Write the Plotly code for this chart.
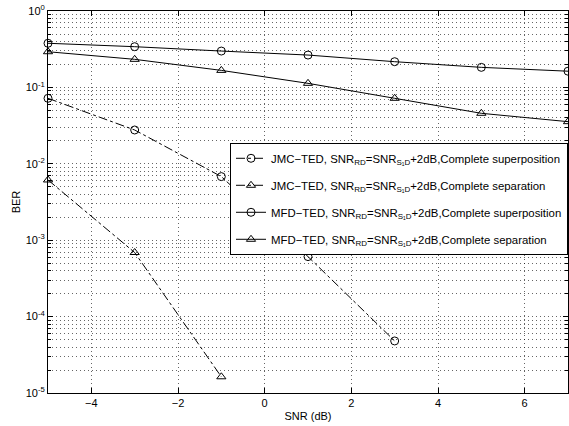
import plotly.graph_objects as go

snr = [-5, -3, -1, 1, 3, 5, 7]
jmc_sup_x = [-5, -3, -1, 1, 3]
jmc_sup_y = [0.072, 0.0277, 0.0068, 6.1e-4, 4.8e-5]
jmc_sep_x = [-5, -3, -1]
jmc_sep_y = [0.00614, 6.9e-4, 1.63e-5]
mfd_sup_y = [0.378, 0.341, 0.299, 0.265, 0.217, 0.183, 0.163]
mfd_sep_y = [0.293, 0.233, 0.167, 0.113, 0.072, 0.0458, 0.0356]

names = [
    "JMC−TED, SNR<sub>RD</sub>=SNR<sub>S₁D</sub>+2dB,Complete superposition",
    "JMC−TED, SNR<sub>RD</sub>=SNR<sub>S₁D</sub>+2dB,Complete separation",
    "MFD−TED, SNR<sub>RD</sub>=SNR<sub>S₁D</sub>+2dB,Complete superposition",
    "MFD−TED, SNR<sub>RD</sub>=SNR<sub>S₁D</sub>+2dB,Complete separation",
]

x_ticks = [-4, -2, 0, 2, 4, 6]
y_major = [1e-5, 1e-4, 1e-3, 1e-2, 1e-1, 1e0]
y_major_text = ["10<sup>-5</sup>", "10<sup>-4</sup>", "10<sup>-3</sup>",
                "10<sup>-2</sup>", "10<sup>-1</sup>", "10<sup>0</sup>"]
y_minor = [k * d for d in [1e-5, 1e-4, 1e-3, 1e-2, 1e-1] for k in range(2, 10)]

fig = go.Figure()
series = [
    (jmc_sup_x, jmc_sup_y, "dashdot", "circle-open"),
    (jmc_sep_x, jmc_sep_y, "dashdot", "triangle-up-open"),
    (snr, mfd_sup_y, "solid", "circle-open"),
    (snr, mfd_sep_y, "solid", "triangle-up-open"),
]
for i, ((xs, ys, dash, sym), nm) in enumerate(zip(series, names)):
    fig.add_trace(go.Scatter(
        x=xs, y=ys, name=nm, mode="lines+markers", legendgroup=f"g{i}",
        line=dict(color="black", width=1, dash=dash),
        marker=dict(symbol=sym, size=8, color="black", line=dict(color="black", width=1)),
        cliponaxis=False,
    ))

grid = "rgba(0,0,0,0.6)"
gdash = "1px,3px"
fig.update_layout(
    width=569, height=426,
    margin=dict(l=48, r=1, t=11, b=33),
    paper_bgcolor="white", plot_bgcolor="white",
    font=dict(family="Liberation Sans, Arial, sans-serif", size=11, color="black"),
    showlegend=True,
    legend=dict(
        x=1, xanchor="right", y=0.655, yanchor="top",
        bgcolor="white", bordercolor="black", borderwidth=1,
        font=dict(size=11.4), itemwidth=30, tracegroupgap=8,
    ),
    xaxis=dict(
        range=[-5, 7], tickvals=x_ticks, ticktext=[str(v).replace("-", "−") for v in x_ticks],
        showgrid=True, gridcolor=grid, griddash=gdash, gridwidth=1,
        ticks="inside", ticklen=5, tickcolor="black",
        showline=True, linecolor="black", linewidth=1, mirror="ticks",
        zeroline=False,
        title=dict(text="SNR (dB)", standoff=4, font=dict(size=11)),
    ),
    yaxis=dict(
        type="log", range=[-5, 0], tickvals=y_major, ticktext=y_major_text,
        showgrid=True, gridcolor=grid, griddash=gdash, gridwidth=1,
        ticks="inside", ticklen=5, tickcolor="black",
        showline=True, linecolor="black", linewidth=1, mirror="ticks",
        zeroline=False,
        minor=dict(tickvals=y_minor, showgrid=True, gridcolor=grid, griddash=gdash,
                   gridwidth=1, ticks="inside", ticklen=3, tickcolor="black"),
        title=dict(text="BER", standoff=2, font=dict(size=11)),
    ),
)

fig.write_html("out.html")
